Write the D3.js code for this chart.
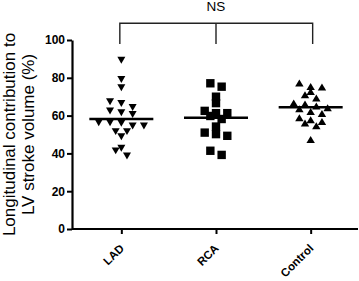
<!DOCTYPE html>
<html><head><meta charset="utf-8">
<script src="https://cdn.jsdelivr.net/npm/d3@7"></script>
<style>body{margin:0;background:#fff}svg{display:block}text{font-family:"Liberation Sans",Arial,sans-serif;fill:#000}</style>
</head><body><svg id="c" width="359" height="281"></svg>
<script>
const categories = ["LAD", "RCA", "Control"];
const ladValues = [89.4, 79.2, 74.8, 67.4, 66.5, 64.4, 62.5, 61.6, 60.7, 56.3, 56.3, 56.0, 54.6, 54.6, 51.6, 51.6, 48.9, 42.8, 41.4, 38.7];
const rcaValues = [77.1, 75.3, 70.0, 66.6, 62.5, 61.3, 61.3, 59.8, 58.2, 54.2, 51.0, 50.2, 49.3, 41.4, 39.2];
const controlValues = [77.1, 75.3, 75.0, 72.7, 70.9, 69.2, 66.6, 66.0, 65.0, 64.0, 63.5, 62.0, 61.0, 58.7, 57.7, 56.8, 56.0, 54.5, 47.2];
const groupMeans = [58.2, 58.8, 64.4];
const yTicks = [0, 20, 40, 60, 80, 100];
const yTitle = ["Longitudinal contribution to", "LV stroke volume (%)"];
const sigLabel = "NS";

const svg = d3.select("#c");
const x = d3.scalePoint().domain(categories).range([74, 358]).padding(0.5);
const y = d3.scaleLinear().domain([0, 100]).range([229, 40]);

// axes
const yAxis = svg.append("g").attr("transform", "translate(72,0)")
  .call(d3.axisLeft(y).tickValues(yTicks).tickSize(5).tickPadding(2).tickSizeOuter(0));
yAxis.select(".domain").attr("stroke", "#000").attr("stroke-width", 2.2);
yAxis.selectAll(".tick line").attr("stroke", "#000").attr("stroke-width", 2);
yAxis.selectAll(".tick text").style("font-size", "12px").style("font-weight", "bold").attr("fill", "#000");

const xAxis = svg.append("g").attr("transform", "translate(0,229)")
  .call(d3.axisBottom(x).tickSize(5).tickSizeOuter(0));
xAxis.select(".domain").attr("d", "M72,0H358").attr("stroke", "#000").attr("stroke-width", 2.2);
xAxis.selectAll(".tick line").attr("stroke", "#000").attr("stroke-width", 2);
xAxis.selectAll(".tick text")
  .style("font-size", "11.5px").style("font-weight", "bold").attr("fill", "#000")
  .attr("text-anchor", "end").attr("dy", null).attr("y", 0)
  .attr("transform", "translate(3,20) rotate(-45)");

// y title
const yt = svg.append("text").attr("transform", "translate(0,134.5) rotate(-90)")
  .attr("text-anchor", "middle").style("font-size", "17px");
yt.selectAll("tspan").data(yTitle).join("tspan")
  .attr("x", 0).attr("y", (d, i) => 15 + i * 19).text(d => d);

// swarm layout: bin by pixel rows, centre each row
function swarm(values, cx) {
  const step = 11.3, rowH = 7;
  const rows = d3.group(values.map(v => ({v, py: y(v)})), d => Math.round(d.py / rowH));
  const out = [];
  for (const [, pts] of rows) {
    pts.sort((a, b) => b.v - a.v);
    pts.forEach((p, i) => out.push({v: p.v, px: cx + (i - (pts.length - 1) / 2) * step, py: p.py}));
  }
  return out;
}

const shapes = {
  LAD: "M-4,-3.3L4,-3.3L0,3.6Z",
  RCA: "M-4.2,-4.2H4.2V4.2H-4.2Z",
  Control: "M-4.2,3.3L4.2,3.3L0,-3.7Z"
};
const groups = [ladValues, rcaValues, controlValues];
categories.forEach((cat, gi) => {
  const pts = swarm(groups[gi], x(cat));
  svg.append("g").selectAll("path").data(pts).join("path")
    .attr("d", shapes[cat]).attr("fill", "#000")
    .attr("transform", d => `translate(${d.px},${d.py})`);
  svg.append("line")
    .attr("x1", x(cat) - 32).attr("x2", x(cat) + 32)
    .attr("y1", y(groupMeans[gi])).attr("y2", y(groupMeans[gi]))
    .attr("stroke", "#000").attr("stroke-width", 2.5);
});

// significance bracket
const bx0 = x(categories[0]) - 1.5, bx1 = x(categories[2]) + 2, bmid = x(categories[1]);
svg.append("path")
  .attr("d", `M${bx0},44V23.3H${bx1}V44M${bmid},23.3V44`)
  .attr("fill", "none").attr("stroke", "#222").attr("stroke-width", 1.4);
svg.append("text").attr("x", bmid).attr("y", 10.5).attr("text-anchor", "middle")
  .style("font-size", "13.5px").text(sigLabel);
</script></body></html>
